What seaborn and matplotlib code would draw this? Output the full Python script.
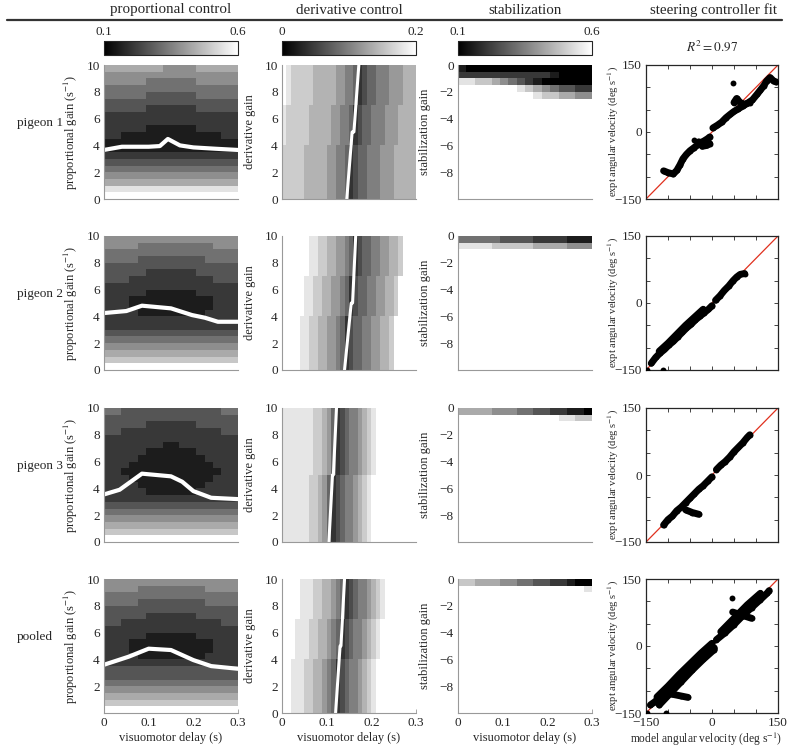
import numpy as np
import pandas as pd
import seaborn as sns
import matplotlib.pyplot as plt
from matplotlib.cm import ScalarMappable
from matplotlib.colors import Normalize

sns.set_style('ticks')
plt.rcParams['font.family'] = ['Liberation Serif', 'DejaVu Serif']
plt.rcParams['mathtext.fontset'] = 'stix'
plt.rcParams['font.size'] = 9

birds = ['pigeon 1', 'pigeon 2', 'pigeon 3', 'pooled']
titles = ['proportional control', 'derivative control', 'stabilization', 'steering controller fit']

# ---- proportional control: rows = gain 10 -> 0 (step 0.5), cols = delay 0 -> 0.3 (step 0.02)
# digit 0..9 = error 0.1..0.6
prop_p1 = ["6666666555566666", "5555555555555555", "5555544444455555", "4444444444444444",
           "4444433333344444", "3333333333333333", "3333322222233333", "2222222222222222",
           "2222222222222222", "2222211111122222", "2211111111111122", "1111111111111111",
           "1111111111111111", "2222222222222222", "3333333333333333", "4444444444444444",
           "5555555555555555", "6666666666666666", "8888888888888888", "9999999999999999"]
prop_p2 = ["5555555555555555", "5555444444444555", "4444444444444444", "4444333333334444",
           "3333333333333333", "3333322222233333", "3332222222222333", "2222222222222222",
           "2222211111122222", "2221111111111222", "2221111111111222", "2222111111112222",
           "2222222222222222", "2222222222222222", "3333333333333333", "4444444444444444",
           "5555555555555555", "6666666666666666", "7777777777777777", "9999999999999999"]
prop_p3 = ["4433333333333344", "3333333333333333", "3333322222233333", "3322222222222233",
           "2222222222222222", "2222222112222222", "2222211111122222", "2222111111112222",
           "2221111111111222", "2211111111111122", "2221111111111222", "2222111111112222",
           "2222211111122222", "2222222222222222", "3333333333333333", "4444444444444444",
           "5555555555555555", "6666666666666666", "7777777777777777", "9999999999999999"]
prop_pool = ["5555555555555555", "5555444444445555", "4444444444444444", "4444333333334444",
             "3333333333333333", "3333322222233333", "3322222222222233", "2222222222222222",
             "2222211111122222", "2221111111111222", "2221111111111222", "2222111111112222",
             "2222222222222222", "3333333333333333", "3333333333333333", "4444444444444444",
             "5555555555555555", "6666666666666666", "7777777777777777", "9999999999999999"]
prop_grids = [prop_p1, prop_p2, prop_p3, prop_pool]

# optimal proportional gain vs delay (white line)
opt_delay = [[0, 0.04, 0.1, 0.125, 0.143, 0.17, 0.2, 0.25, 0.3],
             [0, 0.05, 0.085, 0.15, 0.197, 0.226, 0.255, 0.3],
             [0, 0.035, 0.085, 0.15, 0.175, 0.2, 0.24, 0.3],
             [0, 0.055, 0.1, 0.15, 0.2, 0.24, 0.3]]
opt_gain = [[3.66, 3.9, 3.9, 3.95, 4.48, 4.0, 3.85, 3.75, 3.66],
            [4.25, 4.4, 4.8, 4.6, 4.1, 3.9, 3.6, 3.6],
            [3.55, 3.9, 5.1, 4.9, 4.5, 3.8, 3.3, 3.2],
            [3.6, 4.2, 4.8, 4.7, 3.95, 3.5, 3.3]]

# ---- derivative control: rows = derivative gain 10 -> 0 (step 1), cols = delay 0 -> 0.3 (step 0.01)
# digit 0..9 = error 0..0.18, '.' = above 0.2
deriv_p1 = [".98888877777665542344555666777", ".98888877777665542344555666777",
            ".98888877777665542344555666777", "988888777776655423445556667777",
            "988888777776655423445556667777", "988888777776655423445556667777",
            "888887777766554234455566677777", "888887777766554234455566677777",
            "888887777766554234455566677777", "888887777766554234455566677777"]
deriv_p2 = ["......998877665423445566778...", "......998877665423445566778...",
            "......998877665423445566778...", ".....998877665423445566778....",
            ".....998877665423445566778....", ".....998877665423445566778....",
            "....998877665423445566778.....", "....998877665423445566778.....",
            "....998877665423445566778.....", "....998877665423445566778....."]
deriv_p3 = ["999999988764234556789.........", "999999988764234556789.........",
            "999999988764234556789.........", "999999988764234556789.........",
            "999999988764234556789.........", "99999988764234556789..........",
            "99999988764234556789..........", "99999988764234556789..........",
            "99999988764234556789..........", "99999988764234556789.........."]
deriv_pool = ["....9998877654234556789.......", "....9998877654234556789.......",
              "....9998877654234556789.......", "...9998877654234556789........",
              "...9998877654234556789........", "...9998877654234556789........",
              "..9998877654234556789.........", "..9998877654234556789.........",
              "..9998877654234556789.........", "..9998877654234556789........."]
deriv_grids = [deriv_p1, deriv_p2, deriv_p3, deriv_pool]

deriv_line_gain = [0, 5, 5, 10]
deriv_line_delay = [[0.145, 0.157, 0.161, 0.172],
                    [0.14, 0.155, 0.158, 0.165],
                    [0.105, 0.113, 0.115, 0.122],
                    [0.12, 0.13, 0.132, 0.14]]

# ---- stabilization: rows = gain 0 -> -10 (step 0.5), cols = delay 0 -> 0.3 (step 0.02)
blank = "................"
stab_p1 = ["1000000000000000", "2222222222210000", "8877654321000000",
           "......9876543322", "........98776655"] + [blank] * 15
stab_p2 = ["4444433332222111", "8888777776666555"] + [blank] * 18
stab_p3 = ["6666555443322110", "..........998877"] + [blank] * 18
stab_pool = ["7766655443322100", "..............98"] + [blank] * 18
stab_grids = [stab_p1, stab_p2, stab_p3, stab_pool]

# ---- steering controller fit: model vs expt angular velocity (deg/s), traced segments
p1_model = [-110, -100, -88, -80, -73, -66, -58, -50, -42, -34, -26, -18, -10, -5,
            -30, -22, -12, -5,
            2, 12, 22, 32, 42, 50, 60, 70, 80, 92, 102, 110, 118, 124, 132, 140, 146,
            50, 56, 64, 74, 86, 48, -40]
p1_expt = [-87, -91, -94, -86, -74, -60, -50, -42, -36, -30, -24, -20, -15, -11,
           -22, -32, -30, -26,
           9, 15, 22, 32, 40, 46, 52, 58, 64, 72, 84, 94, 104, 114, 122, 114, 112,
           66, 75, 66, 62, 66, 109, -18]
p1_seg = [0] * 14 + [1] * 4 + [2] * 17 + [3] * 5 + [4, 5]

p2_model = [-148, -112,
            -138, -128, -118, -108, -98, -88, -78, -68, -58, -48, -38, -28, -18, -8, 0,
            -120, -100, -80, -60, -40, -20,
            8, 18, 28, 38, 48, 56, 64, 74]
p2_expt = [-150, -149,
           -135, -122, -112, -104, -94, -86, -76, -66, -56, -48, -38, -30, -22, -14, -6,
           -108, -90, -70, -50, -32, -14,
           6, 16, 28, 38, 50, 58, 64, 66]
p2_seg = [0, 1] + [2] * 15 + [3] * 6 + [4] * 8

p3_model = [-110, -100, -90, -80, -70, -60, -50, -40, -30, -20, -10, 0,
            -60, -45, -30,
            10, 20, 30, 40, 50, 60, 70, 80, 86]
p3_expt = [-112, -100, -92, -80, -72, -62, -52, -42, -32, -24, -14, -4,
           -78, -84, -88,
           12, 22, 30, 40, 52, 62, 72, 84, 90]
p3_seg = [0] * 12 + [1] * 3 + [2] * 9

pool_model = [-140, -130, -115, -100, -85, -70, -55, -40, -25, -10, 5,
              -125, -100, -75, -50, -25, 0,
              -120, -95, -70, -45, -20, 5,
              10, 30, 50, 70, 90, 110, 125, 130,
              20, 50, 80, 110,
              -110, -90, -70, -55,
              47, 65, 90,
              45, -105, -148]
pool_expt = [-132, -125, -112, -98, -84, -70, -56, -42, -28, -14, -4,
             -114, -90, -64, -40, -16, 6,
             -132, -106, -80, -54, -30, -8,
             14, 30, 48, 68, 86, 104, 118, 124,
             32, 62, 92, 118,
             -104, -108, -112, -115,
             76, 70, 62,
             107, -150, -150]
pool_seg = [0] * 11 + [1] * 6 + [2] * 6 + [3] * 8 + [4] * 4 + [5] * 4 + [6] * 3 + [7, 8, 9]

fit_model = [p1_model, p2_model, p3_model, pool_model]
fit_expt = [p1_expt, p2_expt, p3_expt, pool_expt]
fit_seg = [p1_seg, p2_seg, p3_seg, pool_seg]

prop_delays = np.linspace(0, 0.3, 17)
prop_gains = np.linspace(0, 10, 21)
deriv_delays = np.linspace(0, 0.3, 31)
deriv_gains = np.linspace(0, 10, 11)
stab_gains = np.linspace(0, -10, 21)


def parse(rows, lo, hi, over):
    return np.array([[over if c == '.' else lo + int(c) * (hi - lo) / 9 for c in r] for r in rows])


W, H = 791, 749
fig = plt.figure(figsize=(W / 100, H / 100), dpi=100)


def box(x, y, w, h):
    return fig.add_axes([x / W, 1 - (y + h) / H, w / W, h / H])


col_x = [104, 282, 458, 646]
row_y = [65, 236, 408, 579]
size = 134
ylab_x = [80, 256, 431, 621]

# header
for x, t in zip(col_x, titles):
    fig.text((x + size / 2) / W, 1 - 10 / H, t, ha='center', va='center', fontsize=10.8)
fig.add_artist(plt.Line2D([7 / W, 782 / W], [1 - 20 / H, 1 - 20 / H], color='#333333', lw=1.6))

# colorbars
for x, (lo, hi, step) in zip(col_x[:3], [(0.1, 0.6, 0.1), (0, 0.2, 0.04), (0.1, 0.6, 0.1)]):
    cax = box(x, 41, size, 14)
    cb = fig.colorbar(ScalarMappable(Normalize(lo, hi), cmap='gray'), cax=cax, orientation='horizontal')
    cb.outline.set_linewidth(0.8)
    cax.xaxis.set_ticks_position('both')
    cax.set_xticks([lo, hi])
    cax.set_xticklabels([f'{lo:g}', f'{hi:g}'])
    cax.set_xticks(np.arange(lo, hi + 1e-9, step)[1:-1], minor=True)
    cax.tick_params(axis='x', which='both', direction='in', length=3, width=0.6,
                    labeltop=True, labelbottom=False, pad=2, labelsize=9.5)

fig.text(712 / W, 1 - 47 / H, r'$R^2 = 0.97$', ha='center', va='center', fontsize=9.5)

for i, bird in enumerate(birds):
    top = row_y[i]
    last = i == 3
    fig.text(17 / W, 1 - (top + 58) / H, bird, ha='left', va='center', fontsize=9.5)

    # proportional
    ax = box(col_x[0], top, size, size)
    ax.pcolormesh(prop_delays, prop_gains, parse(prop_grids[i], 0.1, 0.6, 1.0)[::-1],
                  cmap='gray', vmin=0.1, vmax=0.6)
    sns.lineplot(x=opt_delay[i], y=opt_gain[i], color='white', lw=3, ax=ax,
                 sort=False, estimator=None)
    ax.set_xlim(0, 0.3)
    ax.set_ylim(0, 10)
    ax.set_yticks([2, 4, 6, 8, 10] if last else [0, 2, 4, 6, 8, 10])
    ax.set_ylabel(r'proportional gain (s$^{-1}$)')

    # derivative
    ax2 = box(col_x[1], top, size, size)
    ax2.pcolormesh(deriv_delays, deriv_gains, parse(deriv_grids[i], 0, 0.18, 1.0)[::-1],
                   cmap='gray', vmin=0, vmax=0.2)
    sns.lineplot(x=deriv_line_delay[i], y=deriv_line_gain, color='white', lw=2.2, ax=ax2,
                 sort=False, estimator=None)
    ax2.set_xlim(0, 0.3)
    ax2.set_ylim(0, 10)
    ax2.set_yticks([0, 2, 4, 6, 8, 10])
    ax2.set_ylabel('derivative gain')

    # stabilization
    ax3 = box(col_x[2], top, size, size)
    ax3.pcolormesh(prop_delays, stab_gains, parse(stab_grids[i], 0.1, 0.6, 1.0),
                   cmap='gray', vmin=0.1, vmax=0.6)
    ax3.set_xlim(0, 0.3)
    ax3.set_ylim(-10, 0)
    ax3.set_yticks([0, -2, -4, -6, -8])
    ax3.set_yticklabels(['0', '\u22122', '\u22124', '\u22126', '\u22128'])
    ax3.set_ylabel('stabilization gain')

    for j, a in enumerate((ax, ax2, ax3)):
        sns.despine(ax=a)
        for s in ('left', 'bottom'):
            a.spines[s].set_color('#999999')
            a.spines[s].set_linewidth(0.8)
        a.tick_params(direction='in', length=3, width=0.6, color='#999999', labelsize=9.5, pad=3)
        a.yaxis.set_label_coords((ylab_x[j] - col_x[j]) / size, 0.5)
        a.set_xticks([0, 0.1, 0.2, 0.3])
        if last:
            a.set_xticklabels(['0', '0.1', '0.2', '0.3'])
            a.set_xlabel('visuomotor delay (s)')
            a.xaxis.set_label_coords(0.5, -19 / size)
        else:
            a.set_xticklabels([])
            a.tick_params(axis='x', length=0)

    # steering controller fit
    ax4 = box(col_x[3], top, 132, size)
    df = pd.DataFrame({'model': fit_model[i], 'expt': fit_expt[i], 'seg': fit_seg[i]})
    ax4.axline((0, 0), slope=1, color='#e0301e', lw=0.9, zorder=1)
    sns.lineplot(data=df, x='model', y='expt', units='seg', estimator=None, sort=False,
                 color='black', lw=5, ax=ax4, zorder=2)
    sns.scatterplot(data=df, x='model', y='expt', color='black', s=18, linewidth=0,
                    ax=ax4, zorder=3)
    ax4.set_xlim(-150, 150)
    ax4.set_ylim(-150, 150)
    ax4.set_xticks(np.arange(-150, 151, 50))
    ax4.set_yticks(np.arange(-150, 151, 50))
    ax4.set_yticklabels(['\u2212150', '', '', '0', '', '', '150'])
    ax4.tick_params(direction='in', length=3, width=0.6, top=True, right=True, labelsize=9.5, pad=3)
    for s in ax4.spines.values():
        s.set_linewidth(0.9)
    ax4.set_ylabel(r'expt angular velocity (deg s$^{-1}$)', fontsize=7.6)
    ax4.yaxis.set_label_coords((ylab_x[3] - col_x[3]) / 132, 0.5)
    if last:
        ax4.set_xticklabels(['\u2212150', '', '', '0', '', '', '150'])
        ax4.set_xlabel(r'model angular velocity (deg s$^{-1}$)', fontsize=8.3)
        ax4.xaxis.set_label_coords((706 - 646) / 132, -18 / size)
    else:
        ax4.set_xticklabels([])
        ax4.set_xlabel('')

fig.savefig('out.png', dpi=100)
